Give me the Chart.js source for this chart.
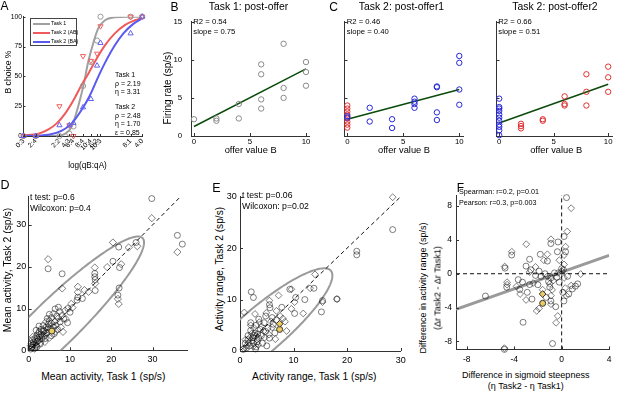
<!DOCTYPE html>
<html><head><meta charset="utf-8">
<script src="https://cdn.jsdelivr.net/npm/chart.js@4.4.0/dist/chart.umd.min.js"></script>
<style>
html,body{margin:0;padding:0;background:#fff;}
body{width:617px;height:394px;position:relative;overflow:hidden;font-family:"Liberation Sans",Arial,sans-serif;color:#000;}
canvas{position:absolute;}
.t{position:absolute;white-space:nowrap;line-height:1;}
</style></head><body>
<script>
// ---------- Panel A ----------
const A_OFFER_LABELS = ["0:3","2:4","2:2","4:3","6:4","8:4","10:4","6:2","10:3","8:1","4:0"];
const A_OFFER_POS = [-1.05,-0.69,0,0.29,0.41,0.69,0.92,1.10,1.20,2.08,2.42];
const A_TASK1 = [0,0,0,2,8,42,62,80,100,100,100];
const A_TASK2_AB = [0,0,25,9,0,67,63,69,92,100,100];
const A_TASK2_BA = [0,0,9,9,11,24,31,59,78,86,100];
const A_FIT_T1_X = [-1.05,-0.13,0.17,0.36,0.55,0.70,0.84,0.99,1.13,1.33,1.62,2.01,2.42];
const A_FIT_T1_Y = [0,0,2,8,25,42,62,78,90,97,99.5,100,100];
const A_FIT_AB_X = [-1.05,-0.61,-0.32,-0.08,0.17,0.41,0.65,0.84,1.09,1.33,1.62,1.91,2.21,2.42];
const A_FIT_AB_Y = [0.5,2,5.5,10.6,19,30,43,52,65,76,86,93,97,99];
const A_FIT_BA_X = [-1.05,-0.32,0.07,0.36,0.65,0.89,1.14,1.38,1.62,1.87,2.16,2.42];
const A_FIT_BA_Y = [0,1,4.5,10.6,22,34,50,64,76,86,94,98.6];
const A_Y_TICKS = [0,25,50,75,100];

// ---------- Panels B, C ----------
const BC_X_TICKS = [0,5,10];
const BC_Y_TICKS = [0,5,10,15];
const B_OFFER = [0,2,2,4,4,6,6,6,6,8,8,8,10,10,10];
const B_RATE = [2.2,2.3,2.0,4.2,2.3,9.4,8.1,4.8,3.6,12.1,6.3,5.0,9.7,8.4,6.6];
const B_FIT_X = [0,10];
const B_FIT_Y = [1.25,8.8];
const C1_RED_OFFER = [0,0,0,0,0,0,0,0];
const C1_RED_RATE = [4.0,3.6,3.2,2.8,2.3,1.9,1.5,1.1];
const C1_BLUE_OFFER = [0,0,2,2,4,4,6,6,6,6,8,8,8,8,10,10,10,10];
const C1_BLUE_RATE = [2.6,2.4,3.7,1.9,2.2,1.05,4.9,4.5,4.2,3.7,6.5,6.4,3.1,2.1,10.5,9.6,6.1,4.1];
const C1_FIT_X = [0,10];
const C1_FIT_Y = [2.2,6.1];
const C2_BLUE_OFFER = [0,0,0,0,0,0,0,0,0,0,0];
const C2_BLUE_RATE = [4.9,3.8,3.6,3.3,2.8,2.4,2.0,1.5,1.2,0.75,0.1];
const C2_RED_OFFER = [2,2,2,4,4,6,6,6,8,8,8,10,10,10];
const C2_RED_RATE = [1.6,1.3,1.0,2.2,2.0,5.2,4.2,4.0,8.1,5.8,4.0,9.1,7.7,5.8];
const C2_FIT_X = [0,10];
const C2_FIT_Y = [1.7,6.8];

// ---------- Panel D ----------
const D_TICKS = [0,10,20,30];
const D_CIRCLES = [[29.8,36.3],[36.0,27.5],[37.2,25.4],[26.0,25.8],[21.8,24.7],[20.4,21.3],[22.0,19.8],[16.0,18.4],[16.0,17.6],[16.1,16.9],[16.1,14.3],[4.7,19.5],[8.1,18.3],[21.9,14.9],[21.6,13.2],[11.9,12.7],[11.7,12.0],[13.0,12.4],[9.5,10.0],[10.0,9.1],[7.2,10.3],[6.4,9.9],[7.6,6.8],[9.4,6.6],[8.5,7.5],[6.8,8.2],[5.5,7.8],[5.0,7.0],[4.8,6.2],[4.2,5.5],[3.5,5.9],[3.0,5.0],[2.5,4.4],[2.0,3.5],[1.5,2.8],[1.2,2.0],[1.0,1.3],[0.8,0.8],[0.5,0.3],[1.8,1.2],[2.2,2.2],[3.2,2.8],[3.8,3.5],[4.5,4.2],[5.2,5.2],[6.0,5.5],[6.5,6.0],[2.8,1.5],[1.5,0.5],[0.9,2.5],[3.0,3.9],[4.0,2.8],[5.5,3.5],[6.2,4.0],[7.0,5.0],[5.0,8.6],[2.5,5.8],[1.8,4.8],[4.5,7.6],[2.0,0.8],[0.6,1.6],[3.6,4.5],[4.6,5.0],[2.6,3.2]];
const D_DIAMONDS = [[29.8,31.6],[36.0,23.5],[20.4,25.8],[24.2,24.6],[26.3,24.9],[22.4,20.6],[19.0,19.9],[16.0,19.8],[16.1,16.0],[21.6,12.3],[21.8,11.1],[11.9,15.2],[13.5,14.4],[11.9,13.9],[10.3,11.1],[8.1,14.8],[4.7,21.8],[10.6,10.2],[8.8,9.5],[8.0,8.3],[8.3,4.4],[7.8,5.5],[9.0,7.5],[6.0,8.8],[5.5,6.5],[4.0,4.0],[3.2,3.5],[2.5,2.5],[1.8,1.9],[1.2,1.5],[0.8,0.6],[3.6,4.8],[4.8,5.4],[6.3,6.8],[7.2,7.7],[2.0,2.9],[2.8,1.8],[1.4,0.4],[0.5,1.1],[3.9,2.0],[5.0,3.0],[6.5,4.5],[4.2,6.8],[1.0,3.2],[2.3,4.0],[14.5,14.0],[7.5,9.3]];
const D_HIGHLIGHT = [[5.6,4.6]];
const D_ELLIPSE = {center:[6,6], axes:[30,5.6], angle:44};

// ---------- Panel E ----------
const E_TICKS = [0,10,20,30];
const E_CIRCLES = [[28.5,23.6],[21.8,19.4],[21.8,18.7],[13.8,12.2],[18.1,10.1],[15.4,9.8],[15.2,7.6],[12.1,10.0],[10.4,10.4],[9.3,12.0],[7.8,8.5],[2.1,11.5],[2.5,10.4],[5.5,9.0],[5.6,8.4],[6.0,6.5],[4.5,5.5],[3.0,5.0],[2.0,4.0],[1.5,3.0],[2.8,3.5],[3.5,2.5],[2.2,2.0],[1.0,1.5],[1.8,1.0],[2.5,1.5],[3.2,1.8],[4.0,3.0],[4.8,3.8],[5.2,4.5],[3.8,4.2],[2.6,3.0],[1.2,0.6],[0.6,0.3],[3.0,0.8],[4.2,1.5],[5.5,2.5],[6.5,3.5],[2.0,5.5],[3.5,6.2],[4.8,6.8],[1.5,2.2],[2.4,2.6],[3.3,3.3],[6.8,6.0],[5.0,1.0],[2.9,0.4],[6.2,5.2],[10.2,7.3]];
const E_DIAMONDS = [[28.5,29.9],[14.0,14.9],[18.1,10.1],[15.4,9.5],[13.1,12.2],[7.2,10.8],[9.6,12.0],[10.2,9.5],[9.6,8.2],[11.8,7.3],[8.7,3.9],[8.4,5.7],[5.5,9.8],[6.8,7.8],[2.8,7.2],[2.0,5.0],[1.2,1.0],[0.7,0.5],[1.8,2.6],[2.6,4.5],[3.2,2.2],[4.0,4.8],[4.6,2.6],[5.4,3.2],[6.0,4.6],[3.6,5.6],[2.2,3.4],[1.6,1.6],[3.0,3.0],[4.4,3.9],[5.8,5.8],[7.5,6.8],[2.5,0.9],[1.0,2.2],[3.4,1.2],[6.6,2.3],[8.0,6.3],[4.9,7.4],[0.8,7.5]];
const E_HIGHLIGHT_CIRCLE = [[7.4,4.2]];
const E_HIGHLIGHT_DIAMOND = [[7.4,5.3]];
const E_ELLIPSE = {center:[4,4], axes:[17.4,4.3], angle:42};

// ---------- Panel F ----------
const F_X_TICKS = [-8,-4,0,4];
const F_Y_TICKS = [-8,-4,0,4,8];
const F_CIRCLES = [[0.41,9.0],[-0.30,3.76],[-0.91,3.57],[-4.21,2.21],[-4.77,0.66],[-2.70,1.71],[-2.6,0.47],[-6.42,-2.64],[-4.63,-1.59],[-3.66,-0.70],[-3.53,-1.86],[-3.25,-5.74],[-0.77,-8.26],[-4.82,-8.95],[-0.91,-3.22],[0.19,-3.22],[1.16,-1.47],[1.35,-1.2],[0.9,-1.8],[-1.74,-0.31],[-0.91,-0.5],[-0.41,-0.43],[0.14,0.47],[-2.7,-1.28],[-0.36,2.6],[0.33,2.6],[-1.2,1.5],[-1.9,0.3],[-2.2,-0.2],[-1.4,0.0],[-0.6,0.1],[0.0,0.6],[0.5,-0.3],[-0.2,-1.0],[-1.0,-1.6],[-2.9,-2.2],[-2.5,-3.0],[-1.3,-2.8],[0.1,-2.2],[0.6,-2.4],[-0.5,-3.9],[-3.0,0.9],[-1.8,2.3],[0.2,4.4],[-3.3,-1.0],[-2.0,-1.3],[-1.1,-0.9]];
const F_DIAMONDS = [[0.8,7.75],[0.47,5.0],[-0.9,4.07],[0.33,3.2],[0.2,2.2],[-2.98,3.49],[-4.2,2.6],[-4.8,0.85],[-1.5,1.6],[-4.6,-1.3],[-3.5,-2.4],[-2.1,-4.4],[-4.82,-8.8],[-0.9,-3.6],[-0.9,-2.6],[-0.33,-5.0],[-0.47,-5.8],[0.3,-1.7],[1.6,-0.04],[-2.7,0.2],[-1.2,-0.3],[-0.7,-0.8],[-0.3,0.1],[0.2,-0.5],[-1.0,-1.2],[-1.6,-1.9],[-2.4,-1.1],[-3.0,-3.1],[-1.9,-4.1],[-0.8,-1.9],[0.0,0.3],[-0.2,1.6],[0.4,-2.6],[-2.2,0.8],[-3.8,-1.5],[-1.2,2.3],[-4.6,-1.0],[0.2,1.1],[0.8,-1.4]];
const F_HIGHLIGHT_DIAMOND = [[-1.6,-2.4]];
const F_HIGHLIGHT_CIRCLE = [[-1.6,-3.5]];
const F_FIT_X = [-8.9,4];
const F_FIT_Y = [-4.2,2.17];

// ================= drawing =================
const FONT = '"Liberation Sans", Arial, sans-serif';
Chart.defaults.font.family = FONT;
Chart.defaults.color = '#000';

const inTicks = {
  id:'inTicks',
  afterDatasetsDraw(chart, args, o){
    if(!o || !o.len) return;
    const ctx = chart.ctx, ca = chart.chartArea, xs = chart.scales.x, ys = chart.scales.y;
    ctx.save(); ctx.strokeStyle = '#333'; ctx.lineWidth = 1; ctx.beginPath();
    xs.ticks.forEach(t=>{const p=Math.round(xs.getPixelForValue(t.value))+0.5; ctx.moveTo(p,ca.bottom); ctx.lineTo(p,ca.bottom-o.len);});
    ys.ticks.forEach(t=>{const p=Math.round(ys.getPixelForValue(t.value))+0.5; ctx.moveTo(ca.left,p); ctx.lineTo(ca.left+o.len,p);});
    ctx.stroke(); ctx.restore();
  }
};
const ellipsePlugin = {
  id:'ellipse',
  beforeDatasetsDraw(chart, args, o){
    if(!o || !o.center) return;
    const xs = chart.scales.x, ys = chart.scales.y, ctx = chart.ctx, ca = chart.chartArea;
    ctx.save(); ctx.beginPath(); ctx.rect(ca.left, ca.top, ca.right-ca.left, ca.bottom-ca.top); ctx.clip();
    const th = o.angle*Math.PI/180, c = Math.cos(th), s = Math.sin(th);
    ctx.beginPath();
    for(let i=0;i<=240;i++){
      const t = i/240*2*Math.PI, u = o.axes[0]*Math.cos(t), v = o.axes[1]*Math.sin(t);
      const px = xs.getPixelForValue(o.center[0]+u*c-v*s), py = ys.getPixelForValue(o.center[1]+u*s+v*c);
      if(i) ctx.lineTo(px,py); else ctx.moveTo(px,py);
    }
    ctx.closePath(); ctx.strokeStyle = '#9a9a9a'; ctx.lineWidth = 2; ctx.stroke(); ctx.restore();
  }
};
Chart.register(inTicks, ellipsePlugin);

const zip = (xa, ya) => xa.map((x,i)=>({x, y:ya[i]}));
const pairs = arr => arr.map(p=>({x:p[0], y:p[1]}));
function markers(data, style, color, r, extra){
  return Object.assign({data, pointStyle:style, pointRadius:r, pointBorderColor:color,
    pointBackgroundColor:'rgba(0,0,0,0)', pointBorderWidth:1, showLine:false, clip:false}, extra||{});
}
function line(data, color, w, extra){
  return Object.assign({data, borderColor:color, borderWidth:w, pointRadius:0, showLine:true, fill:false, tension:0}, extra||{});
}

function panel(rect, m, cfg){
  const cl=Math.floor(rect[0]-m[0]), ct=Math.floor(rect[1]-m[1]), cr=Math.ceil(rect[2]+m[2]), cb=Math.ceil(rect[3]+m[3]);
  const cv=document.createElement('canvas');
  cv.width=cr-cl; cv.height=cb-ct;
  cv.style.left=cl+'px'; cv.style.top=ct+'px'; cv.style.width=(cr-cl)+'px'; cv.style.height=(cb-ct)+'px';
  document.body.appendChild(cv);
  const yW = rect[0]-cl, xH = cb-rect[3];
  const mk = (s, isX) => ({
    type:'linear', min:s.min, max:s.max, position: isX?'bottom':'left',
    grid:{display:false, drawTicks:false},
    border:{display:true, color:'#333', width:1},
    ticks:{autoSkip:false, font:{size:s.font, family:FONT}, padding:s.pad, color:'#000',
      minRotation:s.rot||0, maxRotation:s.rot||0,
      callback:(v,i)=> s.hide ? '' : (s.labels ? s.labels[i] : String(v))},
    afterBuildTicks: sc => { sc.ticks = s.ticks.map(v=>({value:v})); },
    afterFit: sc => { if(isX) sc.height = xH; else sc.width = yW; }
  });
  return new Chart(cv, {type:'scatter', data:{datasets:cfg.datasets}, options:{
    responsive:false, animation:false, events:[], devicePixelRatio:1,
    layout:{padding:{left:0, top:rect[1]-ct, right:cr-rect[2], bottom:0}},
    plugins:{legend:{display:false}, tooltip:{enabled:false}, inTicks:{len:cfg.tick||3}, ellipse:cfg.ellipse||{}},
    scales:{x:mk(cfg.x,true), y:mk(cfg.y,false)}
  }});
}

// ---- A ----
const GRAY='#9a9a9a', RED_L='#f06262', BLUE_L='#6262f0';
panel([23.5,16.7,143,136],[23.5,8,6,30],{
  tick:2,
  x:{min:-1.05,max:2.42,ticks:A_OFFER_POS,labels:A_OFFER_LABELS,font:6.8,pad:1,rot:45},
  y:{min:0,max:100,ticks:A_Y_TICKS,font:6.8,pad:1.5},
  datasets:[
    markers(zip(A_OFFER_POS,A_TASK2_BA),'triangle',BLUE_L,3),
    markers(zip(A_OFFER_POS,A_TASK2_AB),'triangle',RED_L,3,{pointRotation:180}),
    markers(zip(A_OFFER_POS,A_TASK1),'circle',GRAY,2.6),
    line(zip(A_FIT_BA_X,A_FIT_BA_Y),'#5a5af0',2,{cubicInterpolationMode:'monotone'}),
    line(zip(A_FIT_AB_X,A_FIT_AB_Y),'#f05a5a',2,{cubicInterpolationMode:'monotone'}),
    line(zip(A_FIT_T1_X,A_FIT_T1_Y),'#a0a0a0',2,{cubicInterpolationMode:'monotone'})
  ]});

// ---- B ----
const FITG='#0b4a0b';
panel([191.2,16.7,309.9,136],[25,8,8,14],{
  x:{min:-0.25,max:10.35,ticks:BC_X_TICKS,font:7.8,pad:1},
  y:{min:0,max:15,ticks:BC_Y_TICKS,font:7.8,pad:9},
  datasets:[
    markers(zip(B_OFFER,B_RATE),'circle','#8a8a8a',2.7),
    line(zip(B_FIT_X,B_FIT_Y),FITG,1.5)
  ]});
// ---- C1 ----
const CRED='#e03030', CBLUE='#2828d8';
panel([344.5,16.7,463.2,136],[5,8,6,14],{
  x:{min:-0.25,max:10.35,ticks:BC_X_TICKS,font:7.8,pad:1},
  y:{min:0,max:15,ticks:BC_Y_TICKS,font:7.8,pad:9,hide:true},
  datasets:[
    markers(zip(C1_BLUE_OFFER,C1_BLUE_RATE),'circle',CBLUE,2.7),
    markers(zip(C1_RED_OFFER,C1_RED_RATE),'circle',CRED,2.7),
    line(zip(C1_FIT_X,C1_FIT_Y),FITG,1.5)
  ]});
// ---- C2 ----
panel([496.5,16.7,615.2,136],[5,8,1.8,14],{
  x:{min:-0.25,max:10.35,ticks:BC_X_TICKS,font:7.8,pad:1},
  y:{min:0,max:15,ticks:BC_Y_TICKS,font:7.8,pad:9,hide:true},
  datasets:[
    markers(zip(C2_RED_OFFER,C2_RED_RATE),'circle',CRED,2.7),
    markers(zip(C2_BLUE_OFFER,C2_BLUE_RATE),'circle',CBLUE,2.7),
    line(zip(C2_FIT_X,C2_FIT_Y),FITG,1.5)
  ]});

// ---- D ----
const EDGE='rgba(0,0,0,0.5)', YEL='#eccb62';
panel([28.7,195,187.7,350.3],[28.7,6,8,18],{
  ellipse:D_ELLIPSE,
  x:{min:0,max:38.5,ticks:D_TICKS,font:9,pad:4.3},
  y:{min:0,max:36.7,ticks:D_TICKS,font:9,pad:2.5},
  datasets:[
    markers(pairs(D_HIGHLIGHT),'circle','#333',3,{pointBackgroundColor:YEL}),
    markers(pairs(D_CIRCLES),'circle',EDGE,3),
    markers(pairs(D_DIAMONDS),'rectRot',EDGE,3.6),
    line([{x:0,y:0},{x:40,y:40}],'#111',1,{borderDash:[4,3]})
  ]});
// ---- E ----
panel([240,194,402,351],[14,6,8,18],{
  ellipse:E_ELLIPSE,
  x:{min:0,max:30,ticks:E_TICKS,font:9,pad:4.3},
  y:{min:0,max:30,ticks:E_TICKS,font:9,pad:3.3},
  datasets:[
    markers(pairs(E_HIGHLIGHT_DIAMOND),'rectRot','#333',3.4,{pointBackgroundColor:YEL}),
    markers(pairs(E_HIGHLIGHT_CIRCLE),'circle','#333',3,{pointBackgroundColor:YEL}),
    markers(pairs(E_CIRCLES),'circle',EDGE,3),
    markers(pairs(E_DIAMONDS),'rectRot',EDGE,3.4),
    line([{x:0,y:0},{x:31,y:31}],'#111',1,{borderDash:[4,3]})
  ]});
// ---- F ----
panel([456,192,612.3,349.4],[14,6,4.7,18],{
  x:{min:-8.9,max:4,ticks:F_X_TICKS,font:8.5,pad:5.5},
  y:{min:-8.95,max:9.3,ticks:F_Y_TICKS,font:8.5,pad:4},
  datasets:[
    markers(pairs(F_HIGHLIGHT_DIAMOND),'rectRot','#333',3.4,{pointBackgroundColor:YEL}),
    markers(pairs(F_HIGHLIGHT_CIRCLE),'circle','#333',3,{pointBackgroundColor:YEL}),
    markers(pairs(F_CIRCLES),'circle',EDGE,3),
    markers(pairs(F_DIAMONDS),'rectRot',EDGE,3.4),
    line([{x:0,y:-8.95},{x:0,y:9.3}],'#111',1,{borderDash:[4,3]}),
    line([{x:-8.9,y:0},{x:4,y:0}],'#111',1,{borderDash:[4,3]}),
    line(zip(F_FIT_X,F_FIT_Y),'#9a9a9a',3)
  ]});

// ================= text =================
function txt(s, x, y, size, o){
  o = o||{};
  const d=document.createElement('div'); d.className='t'; d.textContent=s;
  d.style.fontSize=size+'px'; d.style.left=x+'px'; d.style.top=y+'px';
  let tr = o.left ? 'translate(0,-50%)' : 'translate(-50%,-50%)';
  if(o.rot) tr += ' rotate(-90deg)';
  d.style.transform=tr;
  if(o.color) d.style.color=o.color;
  document.body.appendChild(d); return d;
}
// panel letters
txt('A',4.5,5.5,12); txt('B',174.5,7,12); txt('C',333.5,6.5,12);
txt('D',5,184.5,12.5); txt('E',216.5,187.5,12.5); txt('F',460.5,188,12);
// titles
txt('Task 1: post-offer',248.5,6.7,10.4);
txt('Task 2: post-offer1',401.5,6.7,10.4);
txt('Task 2: post-offer2',555,6.7,10.4);
// A
txt('B choice %',8,72,8.6,{rot:true});
txt('log(qB:qA)',87.5,165.5,8.2);
const aNotes=[['Task 1',74],['ρ = 2.19',82.5],['η = 3.31',91],['Task 2',106],['ρ = 2.48',114.5],['η = 1.70',123],['ε = 0.85',131.5]];
aNotes.forEach(n=>txt(n[0],115,n[1],7,{left:true}));
(function(){
  const b=document.createElement('div');
  Object.assign(b.style,{position:'absolute',left:'30.3px',top:'18.3px',width:'46.7px',height:'27.4px',border:'0.8px solid #444',boxSizing:'border-box',background:'#fff'});
  document.body.appendChild(b);
  [['Task 1','#a0a0a0',24],['Task 2 (AB)','#f05a5a',33],['Task 2 (BA)','#5a5af0',42]].forEach(it=>{
    const l=document.createElement('div');
    Object.assign(l.style,{position:'absolute',left:'32.5px',top:(it[2]-1)+'px',width:'17px',height:'2px',background:it[1]});
    document.body.appendChild(l);
    txt(it[0],51,it[2],5.3,{left:true});
  });
})();
// B, C
txt('Firing rate (sp/s)',168,88,10,{rot:true});
txt('offer value B',250.7,151,9.3); txt('offer value B',404,151,9.3); txt('offer value B',556.2,151,9.3);
txt('R2 = 0.54',193.3,21.7,7.7,{left:true}); txt('slope = 0.75',193.3,31.7,7.7,{left:true});
txt('R2 = 0.46',346.7,21.7,7.7,{left:true}); txt('slope = 0.40',346.7,31.7,7.7,{left:true});
txt('R2 = 0.66',498.3,21.7,7.7,{left:true}); txt('slope = 0.51',498.3,31.7,7.7,{left:true});
// D
txt('Mean activity, Task 1 (sp/s)',103.3,377,10.4);
txt('Mean activity, Task 2 (sp/s)',8.3,270,10.4,{rot:true});
txt('t test: p=0.6',30,196.7,8.5,{left:true}); txt('Wilcoxon: p=0.4',30,208.3,8.5,{left:true});
// E
txt('Activity range, Task 1 (sp/s)',314.3,376.7,10.2);
txt('Activity range, Task 2 (sp/s)',220,268.5,10.2,{rot:true});
txt('t test: p=0.06',242,194.7,8.7,{left:true}); txt('Wilcoxon: p=0.02',242,206.3,8.7,{left:true});
// F
txt('Difference in sigmoid steepness',525.7,375,9);
txt('(η Task2 - η Task1)',525.7,385.7,9);
txt('Difference in activity range (sp/s)',423.3,288,9,{rot:true});
txt('(Δr Task2 - Δr Task1)',437.7,288,9,{rot:true});
txt('Spearman: r=0.2, p=0.01',459,192,7.2,{left:true}); txt('Pearson: r=0.3, p=0.003',459,202.7,7.2,{left:true});
</script></body></html>
